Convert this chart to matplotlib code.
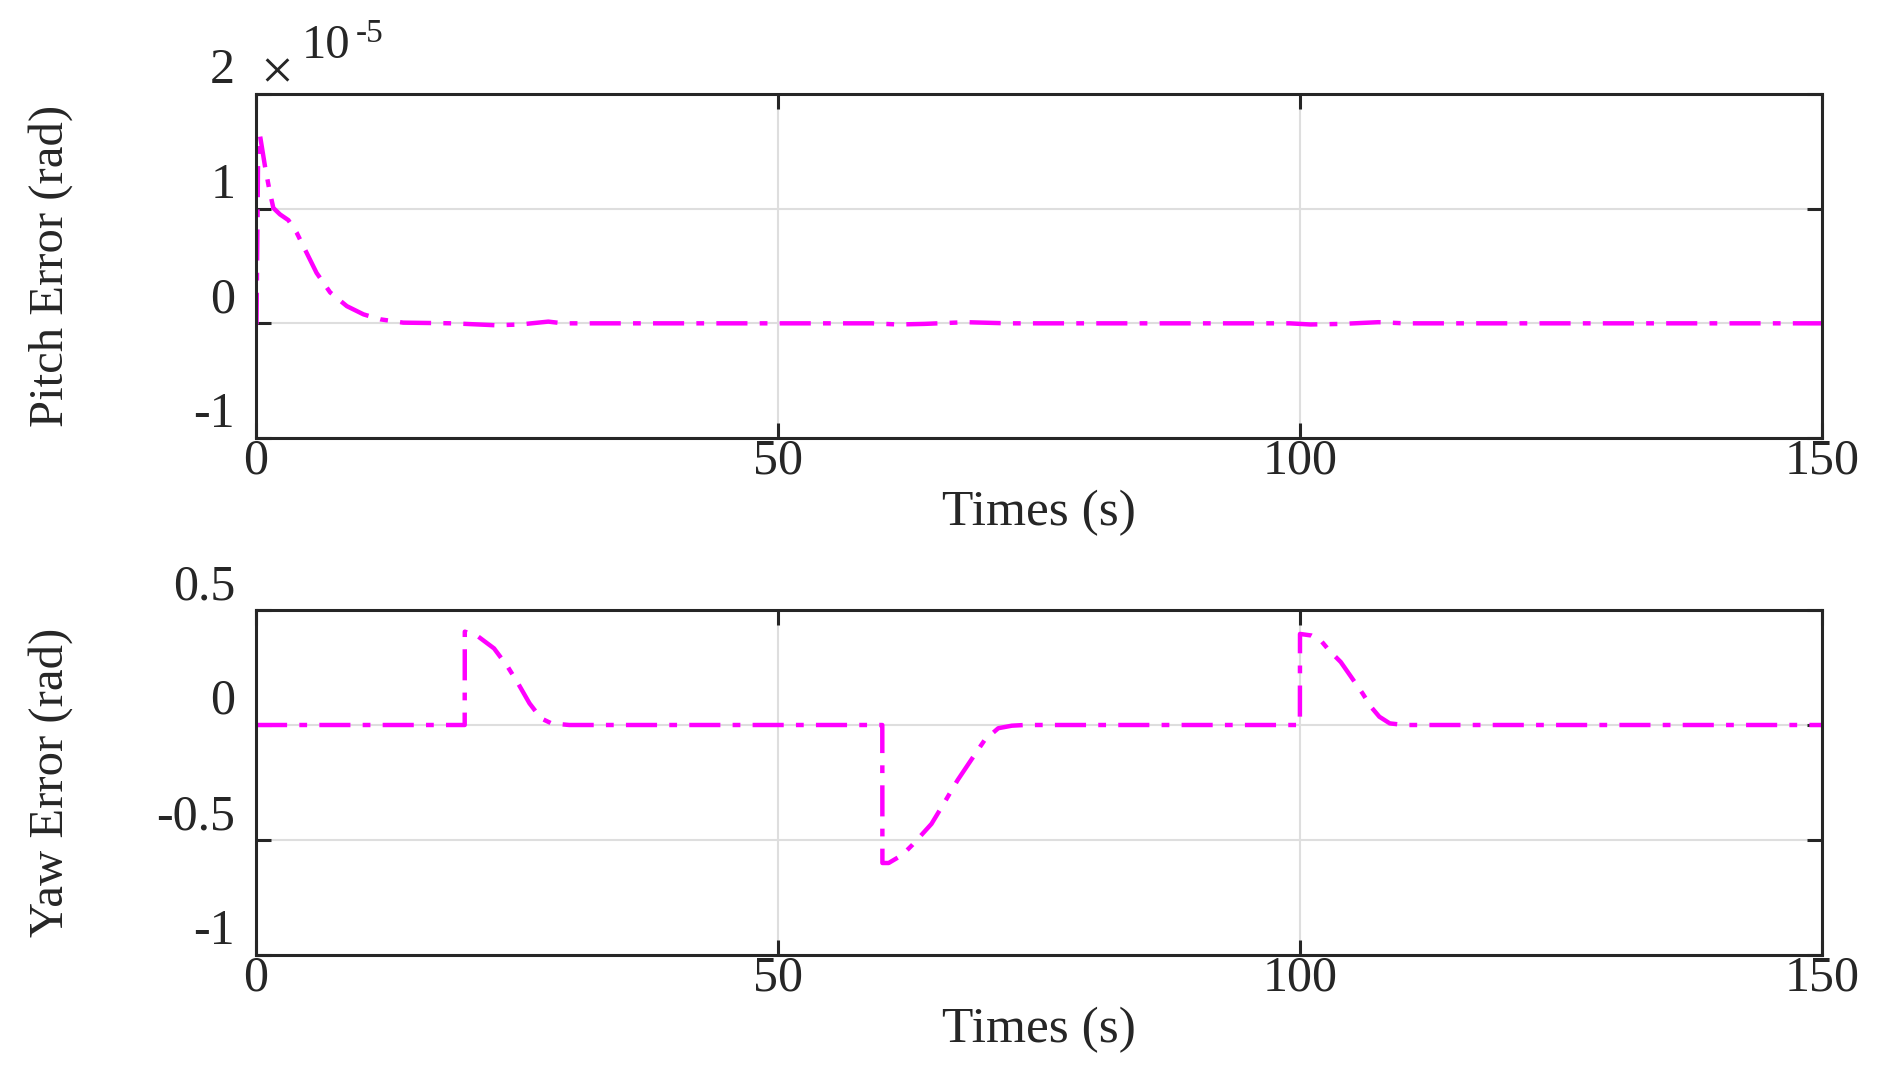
import matplotlib
matplotlib.use("Agg")
import matplotlib.pyplot as plt

plt.rcParams['font.family'] = ['Liberation Serif', 'DejaVu Serif']
plt.rcParams['axes.unicode_minus'] = False

# pitch error, in units of 1e-5 rad
t_pitch = [0, 0.05, 0.2, 0.38, 0.86, 1.28, 1.66, 2.3, 3.1, 3.9, 4.85, 5.8, 7.1, 8.7,
           10.3, 11.9, 14.1, 18.9, 23, 25.3, 28, 29.4, 35, 59, 61.5, 64, 68, 70, 72,
           99, 101, 104, 107.5, 110, 150]
pitch = [0, 0, 1.45, 1.64, 1.37, 1.165, 1.006, 0.95, 0.90, 0.79, 0.615, 0.44, 0.27, 0.15,
         0.078, 0.035, 0.006, 0, -0.017, -0.01, 0.015, 0, 0, 0, -0.01, -0.005, 0.01, 0.005, 0,
         0, -0.01, -0.005, 0.01, 0, 0]

# yaw error (rad)
t_yaw = [0, 19.99, 20, 21.3, 22.8, 24.1, 25.1, 26.2, 27.3, 28.3, 30,
         59.99, 60, 60.6, 61.9, 62.9, 64.7, 65.9, 67.2, 68.5, 69.8, 71.1, 72.4, 73.6,
         99.99, 100, 101.1, 102, 102.8, 103.9, 104.9, 106, 106.8, 107.6, 108.6, 110, 150]
yaw = [0, 0, 0.406, 0.384, 0.333, 0.254, 0.181, 0.094, 0.029, 0.007, 0,
       0, -0.60, -0.60, -0.565, -0.52, -0.43, -0.34, -0.24, -0.152, -0.065, -0.014, -0.003, 0,
       0, 0.396, 0.389, 0.367, 0.324, 0.274, 0.209, 0.137, 0.079, 0.036, 0.007, 0, 0]

xticks = [0, 50, 100, 150]
pitch_ticks = [-1, 0, 1, 2]
pitch_labels = ['-1', '0', '1', '2']
yaw_ticks = [-1, -0.5, 0, 0.5]
yaw_labels = ['-1', '-0.5', '0', '0.5']

W, H = 1884, 1070
fig = plt.figure(figsize=(W / 100, H / 100), dpi=100)
ax1 = fig.add_axes([256 / W, 1 - 438 / H, 1566 / W, 344 / H])
ax2 = fig.add_axes([256 / W, 1 - 955 / H, 1566 / W, 345 / H])

dash = (0, (7, 2.75, 1.75, 2.75))
ax1.plot(t_pitch, pitch, color='#ff00ff', lw=3.2, ls=dash)
ax2.plot(t_yaw, yaw, color='#ff00ff', lw=3.2, ls=dash)

ink = '#262626'
panels = [(ax1, pitch_ticks, pitch_labels, 'Pitch Error (rad)'),
          (ax2, yaw_ticks, yaw_labels, 'Yaw Error (rad)')]
for ax, yt, yl, lab in panels:
    ax.set_xlim(0, 150)
    ax.set_ylim(yt[0], yt[-1])
    ax.set_xticks(xticks)
    ax.set_yticks(yt)
    ax.set_yticklabels(yl)
    ax.grid(True, color='#dedede', lw=1.5)
    ax.set_axisbelow(True)
    for s in ax.spines.values():
        s.set_color(ink)
        s.set_linewidth(2.2)
    ax.tick_params(direction='in', length=11, width=2.2, color=ink,
                   top=True, right=True, labelsize=36, labelcolor=ink)
    ax.tick_params(axis='x', pad=0)
    ax.tick_params(axis='y', pad=15)
    for t in ax.get_yticklabels():
        t.set_verticalalignment('bottom')
    ax.set_xlabel('Times (s)', fontsize=37, color=ink, labelpad=4)
    ax.set_ylabel(lab, fontsize=35, color=ink)
    ax.yaxis.set_label_coords(-183 / 1566, 0.5)

fig.text(277 / W, 1 - 75 / H, '\u00d7', fontsize=42, color=ink, ha='center', va='center')
fig.text(302 / W, 1 - 58 / H, '10', fontsize=35, color=ink, ha='left', va='baseline')
fig.text(356 / W, 1 - 42 / H, '-5', fontsize=24, color=ink, ha='left', va='baseline')

fig.savefig('out.png', dpi=100)
